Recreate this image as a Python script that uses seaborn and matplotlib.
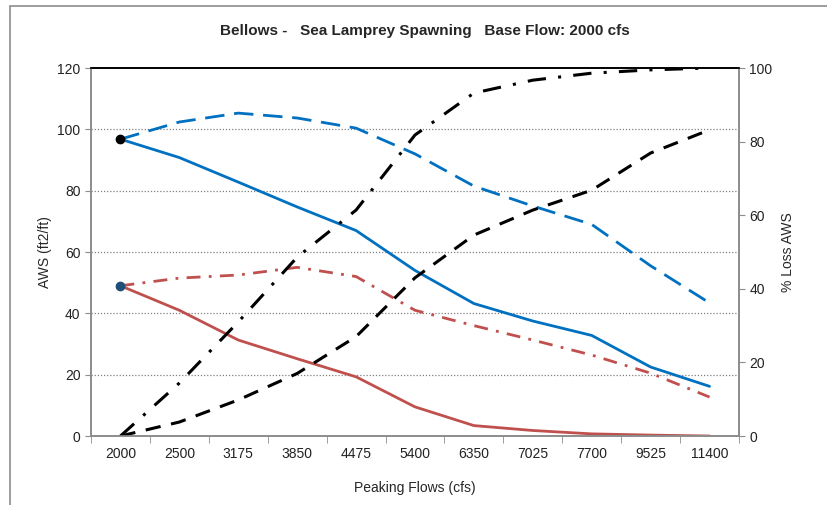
import numpy as np
import pandas as pd
import matplotlib
matplotlib.use("Agg")
import matplotlib.pyplot as plt
import seaborn as sns
from matplotlib.patches import Rectangle

# --- data ---
flows = ['2000', '2500', '3175', '3850', '4475', '5400', '6350', '7025', '7700', '9525', '11400']
aws_peak_blue = [96.8, 90.8, 82.8, 74.7, 67.0, 54.0, 43.2, 37.5, 32.8, 22.5, 16.2]
aws_base_blue = [96.8, 102.4, 105.3, 103.7, 100.4, 92.0, 81.5, 75.0, 69.0, 55.5, 43.4]
aws_peak_red = [49.0, 41.0, 31.3, 25.2, 19.3, 9.5, 3.4, 1.8, 0.7, 0.3, 0.0]
aws_base_red = [49.0, 51.5, 52.5, 55.0, 52.0, 41.0, 36.0, 31.3, 26.4, 20.5, 12.7]
loss_dashdot = [0.0, 14.4, 31.0, 48.6, 61.4, 81.8, 93.2, 96.7, 98.6, 99.5, 100.0]
loss_dashed = [0.0, 3.8, 9.8, 17.0, 27.0, 43.0, 54.6, 61.4, 66.8, 76.9, 83.2]

df = pd.DataFrame({'x': np.arange(len(flows)),
                   'blue_peak': aws_peak_blue, 'blue_base': aws_base_blue,
                   'red_peak': aws_peak_red, 'red_base': aws_base_red,
                   'loss_dd': loss_dashdot, 'loss_d': loss_dashed})

sns.set_style("white")
plt.rcParams['font.family'] = ['Liberation Sans', 'DejaVu Sans']

blue = '#0070C0'
red = '#C0504D'
lw = 2.0

fig = plt.figure(figsize=(8.28, 5.05), dpi=100)
fig.patches.append(Rectangle((0.012, -0.01), 1.0, 0.998, transform=fig.transFigure,
                             fill=False, edgecolor='#8c8c8c', linewidth=1.2))
ax = fig.add_axes([0.1099, 0.1366, 0.7826, 0.7287])
ax2 = ax.twinx()

# left axis lines
sns.lineplot(data=df, x='x', y='blue_base', ax=ax, color=blue, lw=lw,
             linestyle=(0, (7, 3.5)))
sns.lineplot(data=df, x='x', y='blue_peak', ax=ax, color=blue, lw=lw)
sns.lineplot(data=df, x='x', y='red_base', ax=ax, color=red, lw=lw,
             linestyle=(0, (5, 3, 1, 3)))
sns.lineplot(data=df, x='x', y='red_peak', ax=ax, color=red, lw=lw)
ax.plot(df['x'][:1], df['blue_peak'][:1], 'o', color='black', ms=6, zorder=5)
ax.plot(df['x'][:1], df['red_peak'][:1], 'o', color='#1f4e79', ms=6, zorder=5)

# right axis lines
sns.lineplot(data=df, x='x', y='loss_dd', ax=ax2, color='black', lw=2.2,
             linestyle=(0, (6, 4, 1, 4)))
sns.lineplot(data=df, x='x', y='loss_d', ax=ax2, color='black', lw=2.2,
             linestyle=(0, (5, 3.5)))

ax.set_xlim(-0.5, len(flows) - 0.5)
ax.set_ylim(0, 120)
ax2.set_ylim(0, 100)
ax.set_yticks(range(0, 121, 20))
ax2.set_yticks(range(0, 101, 20))
ax.set_xticks(range(len(flows)))
ax.set_xticklabels(flows)
ax.set_xticks(np.arange(-0.5, len(flows), 1), minor=True)

for y in range(20, 120, 20):
    ax.axhline(y, color='#808080', lw=0.9, ls=(0, (1, 1.5)), zorder=0)

for a in (ax, ax2):
    for s in ('left', 'right', 'bottom'):
        a.spines[s].set_color('#8c8c8c')
        a.spines[s].set_linewidth(1.2)
    a.spines['top'].set_color('black')
    a.spines['top'].set_linewidth(1.2)

ax.tick_params(axis='y', which='major', direction='out', length=4, color='#8c8c8c',
               labelsize=10, labelcolor='#222222', left=True)
ax.tick_params(axis='x', which='major', length=0, labelsize=10, pad=8, labelcolor='#222222')
ax.tick_params(axis='x', which='minor', direction='out', length=5, color='#8c8c8c', bottom=True)
ax2.tick_params(axis='y', direction='out', length=4, color='#8c8c8c',
                labelsize=10, labelcolor='#222222', right=True)

ax.set_xlabel('Peaking Flows (cfs)', fontsize=10, labelpad=14)
ax.set_ylabel('AWS (ft2/ft)', fontsize=10, labelpad=4)
ax2.set_ylabel('% Loss AWS', fontsize=10, labelpad=6)
fig.suptitle('Bellows -   Sea Lamprey Spawning   Base Flow: 2000 cfs',
             x=0.513, y=0.952, fontsize=11, fontweight='bold')

fig.savefig('out.png', dpi=100)
